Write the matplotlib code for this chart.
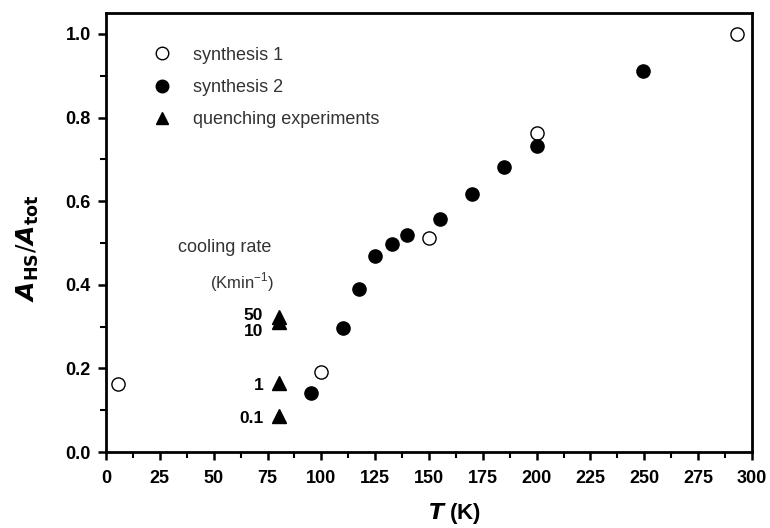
import matplotlib
matplotlib.use("Agg")
import matplotlib.pyplot as plt

# synthesis 1 (open circles)
t_syn1 = [5.5, 100, 150, 200, 293]
a_syn1 = [0.163, 0.192, 0.511, 0.763, 1.0]

# synthesis 2 (filled circles)
t_syn2 = [95, 110, 117.5, 125, 133, 140, 155, 170, 185, 200, 249.5]
a_syn2 = [0.142, 0.296, 0.39, 0.469, 0.498, 0.52, 0.557, 0.617, 0.682, 0.733, 0.912]

# quenching experiments (triangles) with cooling rates
t_quench = [80.5, 80.5, 80.5, 80.5]
a_quench = [0.324, 0.312, 0.164, 0.085]
rates = ["50", "10", "1", "0.1"]
rate_label_y = [0.326, 0.288, 0.16, 0.081]

plt.rcParams["font.family"] = ["Liberation Sans", "DejaVu Sans"]

fig = plt.figure(figsize=(7.7, 5.28), dpi=100)
ax = fig.add_axes([0.1377, 0.1439, 0.8389, 0.8315])

ax.plot(t_syn1, a_syn1, "o", mfc="white", mec="black", mew=1.0, ms=9.5,
        label="synthesis 1", zorder=3)
ax.plot(t_syn2, a_syn2, "o", color="black", ms=9.5, label="synthesis 2", zorder=3)
ax.plot(t_quench, a_quench, "^", color="black", ms=9.5,
        label="quenching experiments", zorder=3)

# cooling rate labels next to triangles
for x, y, r in zip(t_quench, rate_label_y, rates):
    ax.text(x - 7.5, y, r, ha="right", va="center", fontsize=12.5,
            fontweight="bold")

ax.text(55, 0.488, "cooling rate", ha="center", va="center", fontsize=13,
        color="#333333")
ax.text(63, 0.405, r"(Kmin$^{\mathregular{-1}}$)", ha="center", va="center",
        fontsize=12, color="#333333")

ax.set_xlim(0, 300)
ax.set_ylim(0, 1.05)
ax.set_xticks(range(0, 301, 25))
ax.set_xticks([12.5 + 25 * i for i in range(12)], minor=True)
ax.set_yticks([0.0, 0.2, 0.4, 0.6, 0.8, 1.0])
ax.set_yticks([0.1, 0.3, 0.5, 0.7, 0.9], minor=True)
ax.set_yticklabels(["0.0", "0.2", "0.4", "0.6", "0.8", "1.0"])

ax.tick_params(which="major", direction="out", length=6, width=1.8,
               labelsize=13, pad=5)
ax.tick_params(axis="x", which="major", pad=7)
ax.tick_params(which="minor", direction="out", length=4, width=1.5)
for lab in ax.get_xticklabels() + ax.get_yticklabels():
    lab.set_fontweight("bold")

for s in ax.spines.values():
    s.set_linewidth(2)

ax.set_xlabel(r"$\mathbfit{T}$ (K)", fontsize=16, fontweight="bold")
ax.set_ylabel(r"$\mathbfit{A}_{\mathbf{HS}}/\mathbfit{A}_{\mathbf{tot}}$",
              fontsize=18)
ax.xaxis.set_label_coords(0.54, -0.112)
ax.yaxis.set_label_coords(-0.1, 0.465)

leg = ax.legend(loc="upper left", bbox_to_anchor=(0.045, 0.96), frameon=False,
                fontsize=13, handletextpad=1.1, labelspacing=0.85,
                handlelength=1.2, borderpad=0.4, markerscale=0.95)
for t in leg.get_texts():
    t.set_color("#333333")

fig.savefig("out.png", dpi=100)
